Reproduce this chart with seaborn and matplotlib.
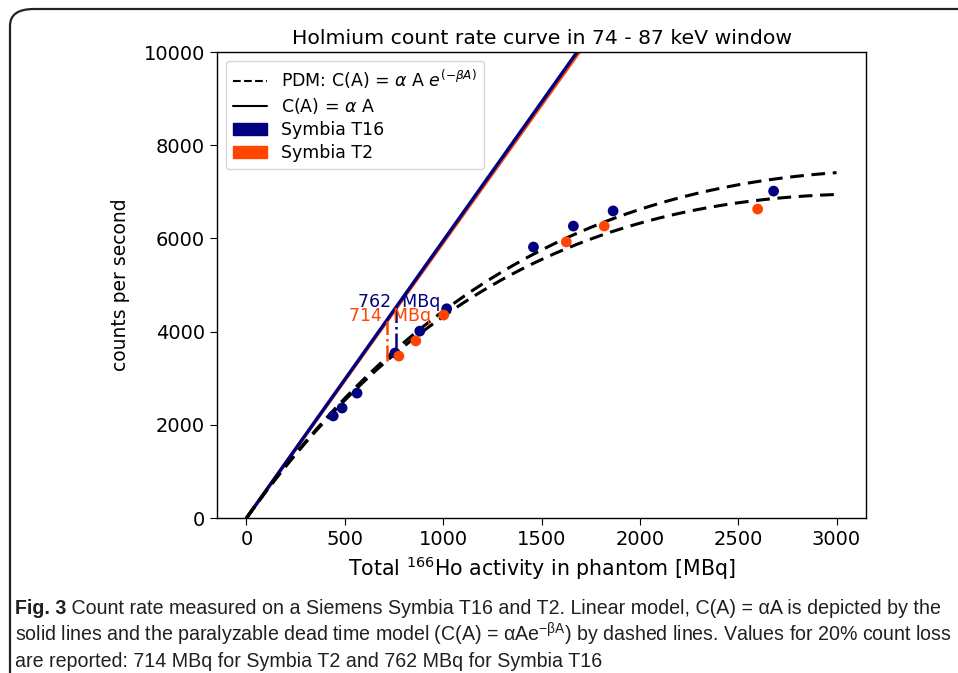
import numpy as np
import pandas as pd
import seaborn as sns
import matplotlib.pyplot as plt
from matplotlib.lines import Line2D
from matplotlib.patches import Patch, FancyBboxPatch

# measured points (MBq, counts/s)
t16_activity = [441, 486, 562, 755, 881, 1018, 1459, 1662, 1864, 2680]
t16_counts = [2190, 2360, 2680, 3540, 4010, 4490, 5815, 6265, 6590, 7015]
t2_activity = [775, 861, 1003, 1626, 1819, 2599]
t2_counts = [3475, 3800, 4355, 5925, 6265, 6630]

# fitted model parameters (alpha in cps/MBq, beta in 1/MBq)
scanners = ["Symbia T16", "Symbia T2"]
alpha = [5.95, 5.91]
beta = [2.93e-4, 3.125e-4]
loss20 = [762, 714]   # activity at 20% count loss
colors = ["navy", "orangered"]

sns.set_style("ticks", rc={"text.color": "black", "axes.labelcolor": "black",
                           "xtick.color": "black", "ytick.color": "black",
                           "axes.edgecolor": "black"})
plt.rcParams["font.family"] = "DejaVu Sans"
plt.rcParams["font.sans-serif"] = ["DejaVu Sans"]
MAIN = "DejaVu Sans"

fig = plt.figure(figsize=(9.58, 6.73), dpi=100)
ax = fig.add_axes([0.2265, 0.2303, 0.6775, 0.6924])

A = np.linspace(0, 3000, 301)
for i in [1, 0]:
    df = pd.DataFrame({"A": A, "lin": alpha[i] * A})
    sns.lineplot(data=df, x="A", y="lin", color=colors[i], lw=2.4, ax=ax)
for i in [1, 0]:
    df = pd.DataFrame({"A": A, "pdm": alpha[i] * A * np.exp(-beta[i] * A)})
    sns.lineplot(data=df, x="A", y="pdm", color="black", lw=2.2,
                 ls=(0, (4.5, 2.5)), ax=ax, zorder=3)

sns.scatterplot(x=t16_activity, y=t16_counts, color=colors[0], s=60,
                edgecolor="none", ax=ax, zorder=4)
sns.scatterplot(x=t2_activity, y=t2_counts, color=colors[1], s=60,
                edgecolor="none", ax=ax, zorder=4)

for i in [1, 0]:
    a0 = loss20[i]
    top = alpha[i] * a0
    ax.plot([a0, a0], [0.8 * top, top], ls="-.", color=colors[i], lw=1.8, zorder=5)
    ax.text(a0 + 15, top, f"{a0}  MBq", color=colors[i], ha="center",
            va="baseline", fontsize=12.5, family=MAIN, zorder=6)

ax.set_xlim(-150, 3150)
ax.set_ylim(0, 10000)
ax.set_xticks([0, 500, 1000, 1500, 2000, 2500, 3000])
ax.set_yticks([0, 2000, 4000, 6000, 8000, 10000])
ax.tick_params(labelsize=14, length=5)
for s in ax.spines.values():
    s.set_visible(True)
    s.set_linewidth(1.0)
ax.set_title("Holmium count rate curve in 74 - 87 keV window", fontsize=14.7,
             pad=6, family=MAIN)
ax.set_xlabel("Total $^{166}$Ho activity in phantom [MBq]", fontsize=14.8, family=MAIN)
ax.set_ylabel("counts per second", fontsize=13.5, labelpad=10, family=MAIN)

handles = [Line2D([], [], color="black", ls="--", lw=1.5),
           Line2D([], [], color="black", lw=1.5),
           Patch(color=colors[0]), Patch(color=colors[1])]
labels = [r"PDM: C(A) = $\alpha$ A $e^{(-\beta A)}$", r"C(A) = $\alpha$ A",
          scanners[0], scanners[1]]
ax.legend(handles, labels, loc="upper left", prop={"family": MAIN, "size": 12.5},
          frameon=True, framealpha=0.8, edgecolor="#cccccc", fancybox=True,
          labelspacing=0.3)

# outer rounded frame
frame = FancyBboxPatch((10 / 958, -0.1), 1.2, 1 - 9 / 673 + 0.1,
                       boxstyle="round,pad=0,rounding_size=0.025",
                       transform=fig.transFigure, fill=False,
                       edgecolor="#222222", lw=1.6, clip_on=False)
fig.patches.append(frame)

# caption
CAP = "Liberation Sans"
rows = [" Count rate measured on a Siemens Symbia T16 and T2. Linear model, C(A) = αA is depicted by the",
        "solid lines and the paralyzable dead time model (C(A) = αAe$^{\\mathregular{-βA}}$) by dashed lines. Values for 20% count loss",
        "are reported: 714 MBq for Symbia T2 and 762 MBq for Symbia T16"]
ink = "#231f20"
y0 = 1 - 614 / 673
cap_size = 14.1
lead = fig.text(15 / 958, y0, "Fig. 3", fontsize=cap_size, weight="bold",
                family=CAP, va="baseline", color=ink)
rest = ax.annotate(rows[0], xy=(1, y0), xycoords=(lead, "figure fraction"),
                   fontsize=cap_size, family=CAP, va="baseline", color=ink,
                   annotation_clip=False)
fig.text(15 / 958, 1 - 641 / 673, rows[1], fontsize=cap_size, family=CAP,
         va="baseline", color=ink)
fig.text(15 / 958, 1 - 667 / 673, rows[2], fontsize=cap_size, family=CAP,
         va="baseline", color=ink)

fig.savefig("out.png", dpi=100)
